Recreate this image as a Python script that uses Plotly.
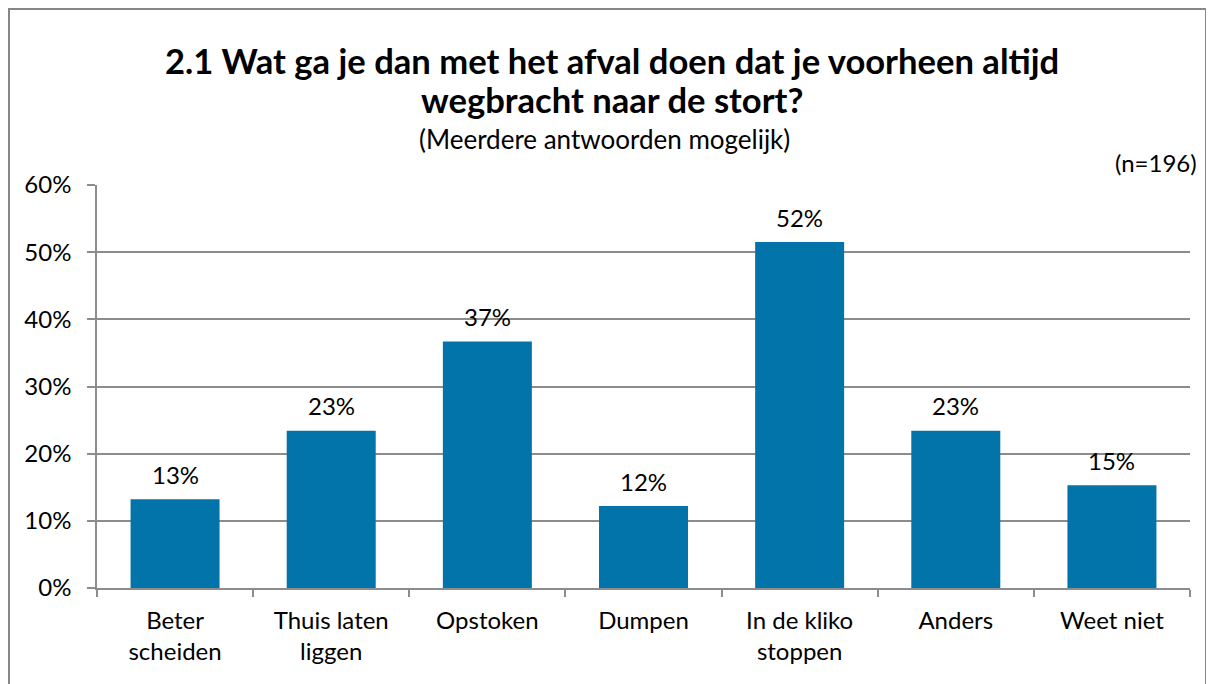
import plotly.graph_objects as go

categories = ["Beter<br>scheiden", "Thuis laten<br>liggen", "Opstoken", "Dumpen",
              "In de kliko<br>stoppen", "Anders", "Weet niet"]
values = [0.132, 0.234, 0.367, 0.122, 0.515, 0.234, 0.153]
y_ticks = [0, 0.1, 0.2, 0.3, 0.4, 0.5, 0.6]
y_tick_labels = ["0%", "10%", "20%", "30%", "40%", "50%", "60%"]

title_line1 = "<b>2.1 Wat ga je dan met het afval doen dat je voorheen altijd</b>"
title_line2 = "<b>wegbracht naar de stort?</b>"
subtitle_text = "(Meerdere antwoorden mogelijk)"
n_text = "(n=196)"

FONT = "Lato"
FS = 24
BAR_COLOR = "#0274A9"
GRID = "#8c8c8c"

OFF = 8  # page body margin
W, H = 1206, 676
L, R, T, B = 97 - OFF, 24, 185 - OFF, 96
pw, ph = W - L - R, H - T - B


def px_x(x):  # page pixel -> paper
    return (x - OFF - L) / pw


def px_y(y):
    return (OFF + T + ph - y) / ph


fig = go.Figure()
fig.add_trace(go.Bar(
    x=categories, y=values,
    marker=dict(color=BAR_COLOR, line=dict(width=0)),
    hoverinfo="skip",
))

for c, v in zip(categories, values):
    fig.add_annotation(x=c, y=v, text=f"{round(v*100)}%", showarrow=False,
                       yshift=25, yanchor="middle", xanchor="center",
                       font=dict(family=FONT, size=FS, color="black"))

for txt, yc in ((title_line1, 60), (title_line2, 99)):
    fig.add_annotation(xref="paper", yref="paper", x=px_x(612), y=px_y(yc),
                       text=txt, showarrow=False, xanchor="center", yanchor="middle",
                       font=dict(family=FONT, size=34.6, color="black"))
fig.add_annotation(xref="paper", yref="paper", x=px_x(604), y=px_y(139),
                   text=subtitle_text, showarrow=False, xanchor="center", yanchor="middle",
                   font=dict(family=FONT, size=26, color="black"))
fig.add_annotation(xref="paper", yref="paper", x=px_x(1199), y=px_y(162),
                   text=n_text, showarrow=False, xanchor="right", yanchor="middle",
                   font=dict(family=FONT, size=FS, color="black"))

fig.add_shape(type="rect", xref="paper", yref="paper",
              x0=px_x(9), x1=px_x(1206), y0=px_y(9), y1=px_y(700),
              line=dict(color="#878787", width=2), fillcolor="rgba(0,0,0,0)", layer="below")

fig.update_layout(
    width=W, height=H,
    margin=dict(l=L, r=R, t=T, b=B, autoexpand=False),
    paper_bgcolor="white", plot_bgcolor="white",
    bargap=0.43, showlegend=False,
    font=dict(family=FONT, size=FS, color="black"),
)
fig.update_xaxes(
    type="category", showgrid=False,
    showline=True, linecolor=GRID, linewidth=1.5,
    ticks="outside", tickson="boundaries", ticklen=7, tickcolor=GRID, tickwidth=1.5,
    ticklabelstandoff=10,
    tickfont=dict(family=FONT, size=FS, color="black"),
)
fig.update_yaxes(
    range=[0, 0.6], tickvals=y_ticks, ticktext=y_tick_labels,
    showgrid=True, gridcolor=GRID, gridwidth=1.5,
    showline=True, linecolor=GRID, linewidth=1.5,
    ticks="outside", ticklen=8, tickcolor=GRID, tickwidth=1.5,
    ticklabelstandoff=11, zeroline=False,
    tickfont=dict(family=FONT, size=FS, color="black"),
)

fig.write_html("out.html")
